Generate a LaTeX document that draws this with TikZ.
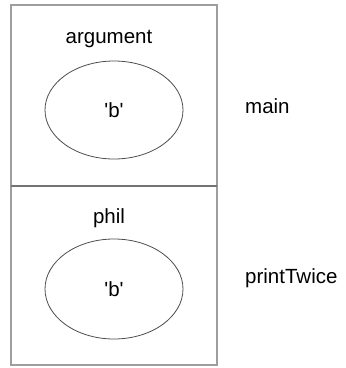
\documentclass[tikz,border=0pt]{standalone}
\usepackage{fontspec}
\setmainfont{Liberation Sans}
\usetikzlibrary{shapes.geometric}
\begin{document}
\begin{tikzpicture}[x=1pt,y=-1pt,
  frame/.style={draw=black!38,line width=1.8pt},
  divider/.style={draw=black!55,line width=1.8pt},
  val/.style={draw=black!70,line width=0.8pt,ellipse,minimum width=138pt,minimum height=98pt,inner sep=0pt,font=\fontsize{20.5}{24}\selectfont},
  lbl/.style={font=\fontsize{20.5}{24}\selectfont,inner sep=0pt},
  fname/.style={font=\fontsize{20.5}{24}\selectfont,inner sep=0pt,anchor=base west}]
\useasboundingbox (0,0) rectangle (346,368);
\node[frame,draw,minimum width=206pt,minimum height=360pt,inner sep=0pt] (outer) at (114,185) {};
\coordinate (dl) at (11,186);
\coordinate (dr) at (217,186);
\draw[divider] (dl) -- (dr);
\node[lbl,anchor=base] (arg) at (109,43) {argument};
\node[val] (e1) at (114,110) {\textquotesingle b\textquotesingle};
\node[lbl,anchor=base] (phil) at (109,223) {phil};
\node[val,minimum height=100pt] (e2) at (114,289) {\textquotesingle b\textquotesingle};
\node[fname] (main) at (245,113) {main};
\node[fname] (pt) at (245,283) {printTwice};
\end{tikzpicture}
\end{document}
